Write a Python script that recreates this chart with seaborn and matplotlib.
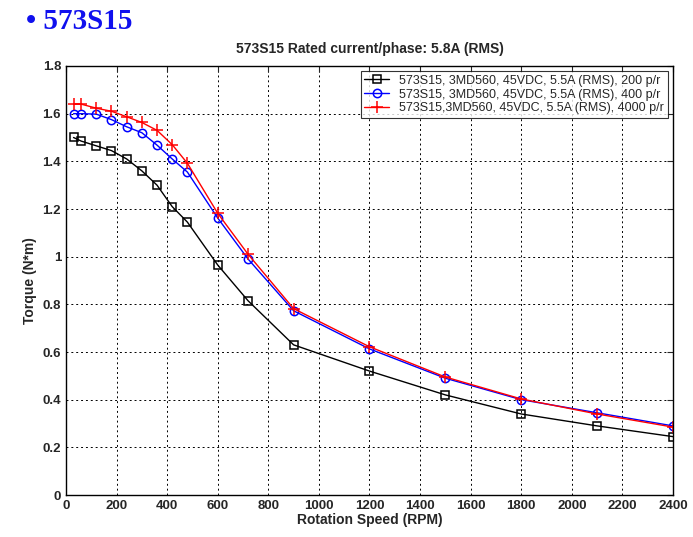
import pandas as pd
import matplotlib.pyplot as plt
import seaborn as sns

# Speed points (RPM)
speed = [30, 60, 120, 180, 240, 300, 360, 420, 480, 600, 720, 900, 1200, 1500, 1800, 2100, 2400]

# Torque (N*m)
torque_200 = [1.50, 1.485, 1.465, 1.445, 1.41, 1.36, 1.30, 1.21, 1.145, 0.965, 0.815, 0.63, 0.52, 0.42, 0.34, 0.29, 0.245]
torque_400 = [1.60, 1.60, 1.598, 1.575, 1.545, 1.52, 1.468, 1.41, 1.355, 1.162, 0.99, 0.773, 0.613, 0.49, 0.40, 0.345, 0.29]
torque_4000 = [1.64, 1.64, 1.623, 1.61, 1.587, 1.563, 1.53, 1.47, 1.392, 1.182, 1.01, 0.782, 0.622, 0.495, 0.403, 0.34, 0.285]

labels = ["573S15, 3MD560, 45VDC, 5.5A (RMS), 200 p/r",
          "573S15, 3MD560, 45VDC, 5.5A (RMS), 400 p/r",
          "573S15,3MD560, 45VDC, 5.5A (RMS), 4000 p/r"]

df = pd.concat([
    pd.DataFrame({"speed": speed, "torque": vals, "series": lab})
    for vals, lab in zip([torque_200, torque_400, torque_4000], labels)
])

sns.set_style("white")
plt.rcParams['font.family'] = ['Liberation Sans', 'DejaVu Sans']

fig = plt.figure(figsize=(6.93, 5.37), dpi=100)
ax = fig.add_axes([0.0952, 0.0782, 0.8759, 0.7989])

line_colors = ["black", "blue", "red"]
colors = dict(zip(labels, line_colors))

sns.lineplot(data=df, x="speed", y="torque", hue="series", hue_order=labels,
             palette=colors, ax=ax, linewidth=1.0, sort=False, legend=False)

# MATLAB-style open markers: square, circle, plus
# (seaborn gives markers a white edge by default, so set the edge colour back)
marks = [("s", 6), ("o", 6), ("+", 8)]
series_lines = ax.lines[:3]
for line, (m, ms), c in zip(series_lines, marks, line_colors):
    line.set_linestyle("-")
    line.set_marker(m)
    line.set_markersize(ms)
    line.set_markerfacecolor("none")
    line.set_markeredgecolor(c)
    line.set_markeredgewidth(1.1)

ax.set_xlim(0, 2400)
ax.set_ylim(0, 1.8)
ax.set_xticks(range(0, 2401, 200))
ax.set_yticks([0, 0.2, 0.4, 0.6, 0.8, 1.0, 1.2, 1.4, 1.6, 1.8])
ax.set_yticklabels(["0", "0.2", "0.4", "0.6", "0.8", "1", "1.2", "1.4", "1.6", "1.8"])
ax.grid(True, color="black", linestyle=(0, (2, 3)), linewidth=0.7)
ax.tick_params(direction="in", top=True, right=True, length=4, labelsize=9.5, width=0.8)
for lab in ax.get_xticklabels() + ax.get_yticklabels():
    lab.set_fontweight("bold")
for sp in ax.spines.values():
    sp.set_color("black")
    sp.set_linewidth(1.0)

ax.set_xlabel("Rotation Speed (RPM)", fontsize=10, fontweight="bold", labelpad=1)
ax.set_ylabel("Torque (N*m)", fontsize=10, fontweight="bold", labelpad=4)
ax.set_title("573S15 Rated current/phase: 5.8A (RMS)", fontsize=10, fontweight="bold", pad=9)

leg = ax.legend(series_lines, labels, loc="upper right", fontsize=9, frameon=True, fancybox=False,
                borderaxespad=0.4, handlelength=2.0, labelspacing=0.15, borderpad=0.3)
leg.get_frame().set_edgecolor("black")
leg.get_frame().set_linewidth(0.8)

fig.text(0.038, 0.985, "\u2022 573S15", color="#1010ee", fontsize=21, fontweight="bold",
         family=["Liberation Serif", "DejaVu Serif"], va="top", ha="left")

fig.savefig("out.png", dpi=100)
